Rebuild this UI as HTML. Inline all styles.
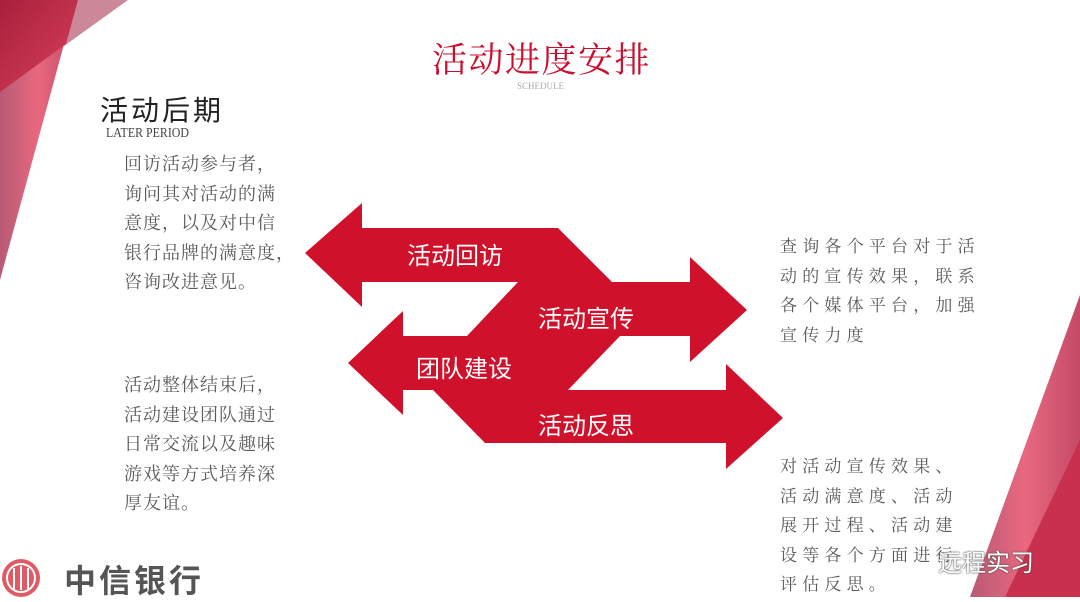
<!DOCTYPE html>
<html><head><meta charset="utf-8"><style>
html,body{margin:0;padding:0;background:#fff;}
body{width:1080px;height:597px;position:relative;overflow:hidden;font-family:"Liberation Sans","Noto Sans CJK SC",sans-serif;}
.t{position:absolute;white-space:nowrap;}
.p{position:absolute;color:#5a5a5a;font-family:"Liberation Serif","Noto Serif CJK SC",serif;font-size:18px;line-height:29.5px;letter-spacing:1px;}
.lbl{position:absolute;color:#fff;font-size:24px;font-family:"Liberation Sans","Noto Sans CJK SC",sans-serif;white-space:nowrap;}
</style></head><body>
<svg width="1080" height="597" style="position:absolute;left:0;top:0">
<defs>
<linearGradient id="g1" x1="0" y1="0" x2="1" y2="0"><stop offset="0" stop-color="#b85a75"/><stop offset="0.5" stop-color="#e8687f"/><stop offset="1" stop-color="#c44a66"/></linearGradient>
<linearGradient id="g2" x1="0" y1="0" x2="1" y2="1"><stop offset="0" stop-color="#a8203c"/><stop offset="1" stop-color="#d8405a"/></linearGradient>
</defs>
<polygon points="0,0 76,0 0,280" fill="url(#g1)"/>
<polygon points="76,0 128,0 64,46" fill="#cc8899"/>
<polygon points="0,0 78,0 66,44 0,92" fill="url(#g2)"/>
<polygon points="1080,295 1080,597 970,597" fill="url(#g1)"/>
<polygon points="1080,440 1080,597 1005,597" fill="#c8304e"/>
<polygon fill="#d0112b" points="305,253 362,203 362,228 558,228 612,282 690,282 690,257 747,310 690,362 690,336 620,336 568,390 726,390 726,364 783,418 726,469 726,443 485,443 433,390 403,390 403,415 348,363 403,311 403,336 467,336 518,282 362,282 362,307"/>
<circle cx="21" cy="578" r="19" fill="#e05a66"/>
<circle cx="21" cy="578" r="14" fill="none" stroke="#fff" stroke-width="2"/>
<path d="M14 568 V590 M21 566 V590 M28 568 V590" stroke="#fff" stroke-width="2"/>
</svg>
<div class="t" style="left:432px;top:33px;font-size:35px;color:#c8102e;letter-spacing:1.5px;font-family:'Liberation Serif','Noto Serif CJK SC',serif;">活动进度安排</div>
<div class="t" style="left:517px;top:81px;font-size:9px;color:#aaa;font-family:'Liberation Serif',serif;">SCHEDULE</div>
<div class="t" style="left:100px;top:89px;font-size:28px;color:#222;letter-spacing:3px;font-family:'Liberation Sans','Noto Sans CJK SC',sans-serif;">活动后期</div>
<div class="t" style="left:106px;top:126px;font-size:14px;color:#444;font-family:'Liberation Serif',serif;transform:scaleX(0.85);transform-origin:left;">LATER PERIOD</div>
<div class="p" style="left:124px;top:150px;">回访活动参与者，<br>询问其对活动的满<br>意度，以及对中信<br>银行品牌的满意度，<br>咨询改进意见。</div>
<div class="p" style="left:124px;top:371px;">活动整体结束后，<br>活动建设团队通过<br>日常交流以及趣味<br>游戏等方式培养深<br>厚友谊。</div>
<div class="p" style="left:780px;top:232px;font-size:17px;letter-spacing:5.2px;">查询各个平台对于活<br>动的宣传效果，联系<br>各个媒体平台，加强<br>宣传力度</div>
<div class="p" style="left:780px;top:452px;font-size:17px;letter-spacing:5.2px;">对活动宣传效果、<br>活动满意度、活动<br>展开过程、活动建<br>设等各个方面进行<br>评估反思。</div>
<div class="lbl" style="left:407px;top:236px;">活动回访</div>
<div class="lbl" style="left:538px;top:299px;">活动宣传</div>
<div class="lbl" style="left:416px;top:349px;">团队建设</div>
<div class="lbl" style="left:538px;top:406px;">活动反思</div>
<div class="t" style="left:64px;top:556px;font-size:32px;color:#555;letter-spacing:3px;font-weight:bold;">中信银行</div>
<div class="t" style="left:938px;top:543px;font-size:24px;color:#fff;text-shadow:0 0 2px #555,0 0 1px #333;">远程实习</div>
</body></html>
